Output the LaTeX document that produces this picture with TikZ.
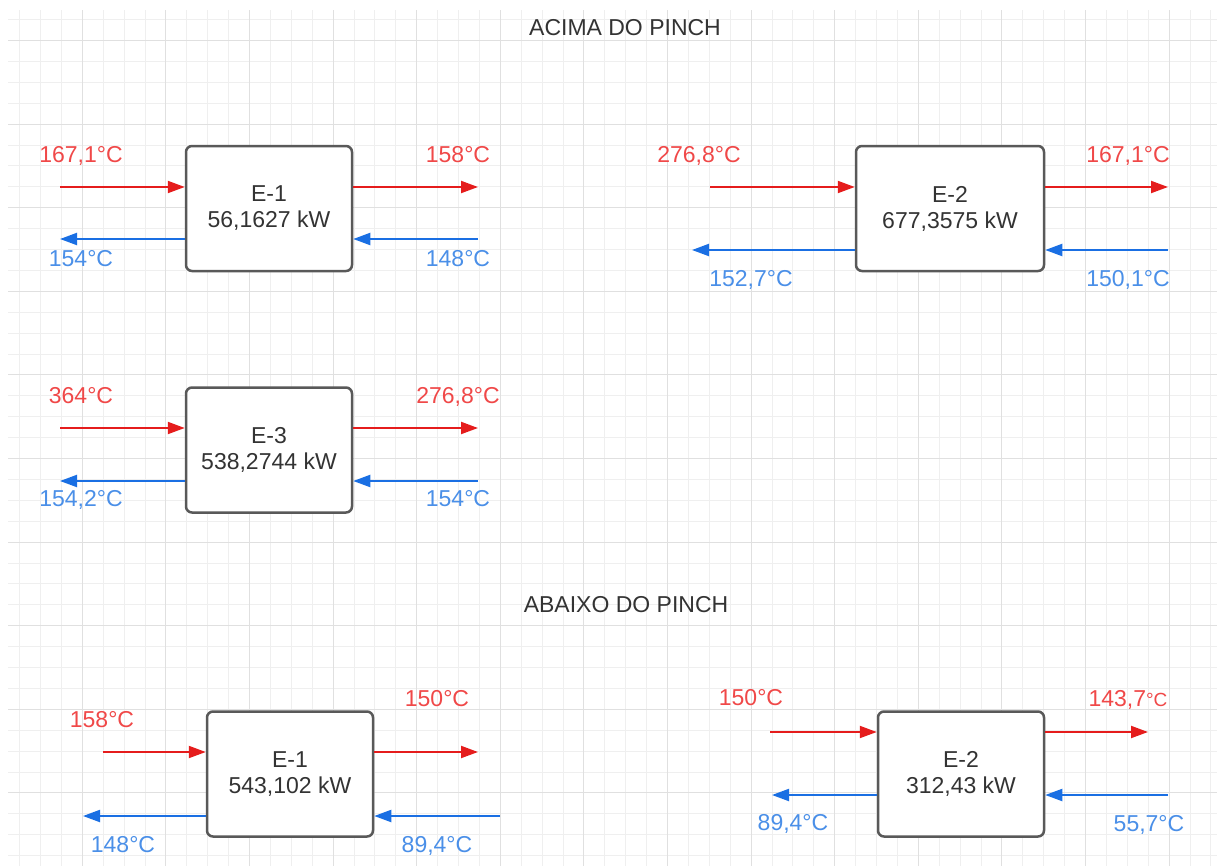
\documentclass[tikz,border=0pt]{standalone}
\usepackage{fontspec}
\setmainfont{Liberation Sans}
\usepackage{tikz}
\usetikzlibrary{arrows.meta}
\definecolor{pnred}{HTML}{E51C1C}
\definecolor{pnredtx}{HTML}{F04848}
\definecolor{pnblue}{HTML}{1A6FE3}
\definecolor{pnbluetx}{HTML}{4A8FE8}
\definecolor{pngray}{HTML}{595959}
\definecolor{pntext}{HTML}{333333}
\definecolor{gridmin}{HTML}{EFEFEF}
\definecolor{gridmaj}{HTML}{E0E0E0}
\tikzset{
  hx/.style     ={draw=pngray, line width=2.5bp, rounded corners=6bp, fill=white,
                  minimum width=166bp, minimum height=125bp, align=center,
                  text=pntext, font=\fontsize{23bp}{26bp}\selectfont},
  lbl/.style    ={font=\fontsize{23bp}{26bp}\selectfont, inner sep=0pt,
                  text height=16.5bp, text depth=0pt},
  hotlbl/.style ={lbl, text=pnredtx},
  coldlbl/.style={lbl, text=pnbluetx},
  ttl/.style    ={lbl, text=pntext},
  flow/.style   ={line width=2bp, -{Triangle[length=17bp,width=12bp]}},
  hotln/.style  ={flow, draw=pnred},
  coldln/.style ={flow, draw=pnblue},
  gminor/.style ={draw=gridmin, line width=1bp},
  gmajor/.style ={draw=gridmaj, line width=1bp},
}
\newcommand{\pinchgrid}{%
  \foreach \k in {1,...,58}{\pgfmathsetmacro\gx{round(20.9*\k-1.7)+0.5}
    \draw[gminor] (\gx,10) -- (\gx,866);}
  \foreach \k in {1,...,41}{\pgfmathsetmacro\gy{round(20.9*\k-1.7)+0.5}
    \draw[gminor] (8,\gy) -- (1217,\gy);}
  \foreach \k in {4,8,...,56}{\pgfmathsetmacro\gx{round(20.9*\k-1.7)+0.5}
    \draw[gmajor] (\gx,10) -- (\gx,866);}
  \foreach \k in {2,6,...,38}{\pgfmathsetmacro\gy{round(20.9*\k-1.7)+0.5}
    \draw[gmajor] (8,\gy) -- (1217,\gy);}}

\begin{document}
\begin{tikzpicture}[x=1bp,y=-1bp]
  \useasboundingbox[fill=white] (0,0) rectangle (1217,866);
  \pinchgrid
  \node[ttl] (acima)  at (625,27)  {ACIMA DO PINCH};
  \node[ttl] (abaixo) at (626,604) {ABAIXO DO PINCH};
  % trocadores
  \node[hx] (e1a) at (269,208.5) {E-1\\56,1627 kW};
  \node[hx, minimum width=188bp] (e2a) at (950,208.5) {E-2\\677,3575 kW};
  \node[hx] (e3)  at (269,450) {E-3\\538,2744 kW};
  \node[hx] (e1b) at (290,774) {E-1\\543,102 kW};
  \node[hx] (e2b) at (961,774) {E-2\\312,43 kW};
  % pontas das correntes
  \coordinate (hin1) at (60,187);   \coordinate (hout1) at (478,187);
  \coordinate (cin1) at (478,239);  \coordinate (cout1) at (60,239);
  \coordinate (hin2) at (710,187);  \coordinate (hout2) at (1168,187);
  \coordinate (cin2) at (1168,250); \coordinate (cout2) at (692,250);
  \coordinate (hin3) at (60,428);   \coordinate (hout3) at (478,428);
  \coordinate (cin3) at (478,481);  \coordinate (cout3) at (60,481);
  \coordinate (hin4) at (103,752);  \coordinate (hout4) at (478,752);
  \coordinate (cin4) at (500,816);  \coordinate (cout4) at (83,816);
  \coordinate (hin5) at (770,732);  \coordinate (hout5) at (1148,732);
  \coordinate (cin5) at (1168,795); \coordinate (cout5) at (772,795);
  \foreach \n/\e in {1/e1a,2/e2a,3/e3,4/e1b,5/e2b}{
    \draw[hotln]  (hin\n) -- (hin\n -| \e.west);
    \draw[hotln]  (\e.east |- hout\n) -- (hout\n);
    \draw[coldln] (cin\n) -- (cin\n -| \e.east);
    \draw[coldln] (\e.west |- cout\n) -- (cout\n);
  }
  % temperaturas
  \node[hotlbl]  (t1a) at (81,154)  {167,1°C};
  \node[hotlbl]  (t1b) at (458,154) {158°C};
  \node[coldlbl] (t1c) at (81,258)  {154°C};
  \node[coldlbl] (t1d) at (458,258) {148°C};
  \node[hotlbl]  (t2a) at (699,154)  {276,8°C};
  \node[hotlbl]  (t2b) at (1128,154) {167,1°C};
  \node[coldlbl] (t2c) at (751,278)  {152,7°C};
  \node[coldlbl] (t2d) at (1128,278) {150,1°C};
  \node[hotlbl]  (t3a) at (81,395)  {364°C};
  \node[hotlbl]  (t3b) at (458,395) {276,8°C};
  \node[coldlbl] (t3c) at (81,498)  {154,2°C};
  \node[coldlbl] (t3d) at (458,498) {154°C};
  \node[hotlbl]  (t4a) at (102,719) {158°C};
  \node[hotlbl]  (t4b) at (437,698) {150°C};
  \node[coldlbl] (t4c) at (123,844) {148°C};
  \node[coldlbl] (t4d) at (437,844) {89,4°C};
  \node[hotlbl]  (t5a) at (751,697)  {150°C};
  \node[hotlbl]  (t5b) at (1128,698) {143,7{\fontsize{19bp}{19bp}\selectfont °C}};
  \node[coldlbl] (t5c) at (793,822)  {89,4°C};
  \node[coldlbl] (t5d) at (1149,823) {55,7°C};
\end{tikzpicture}
\end{document}
